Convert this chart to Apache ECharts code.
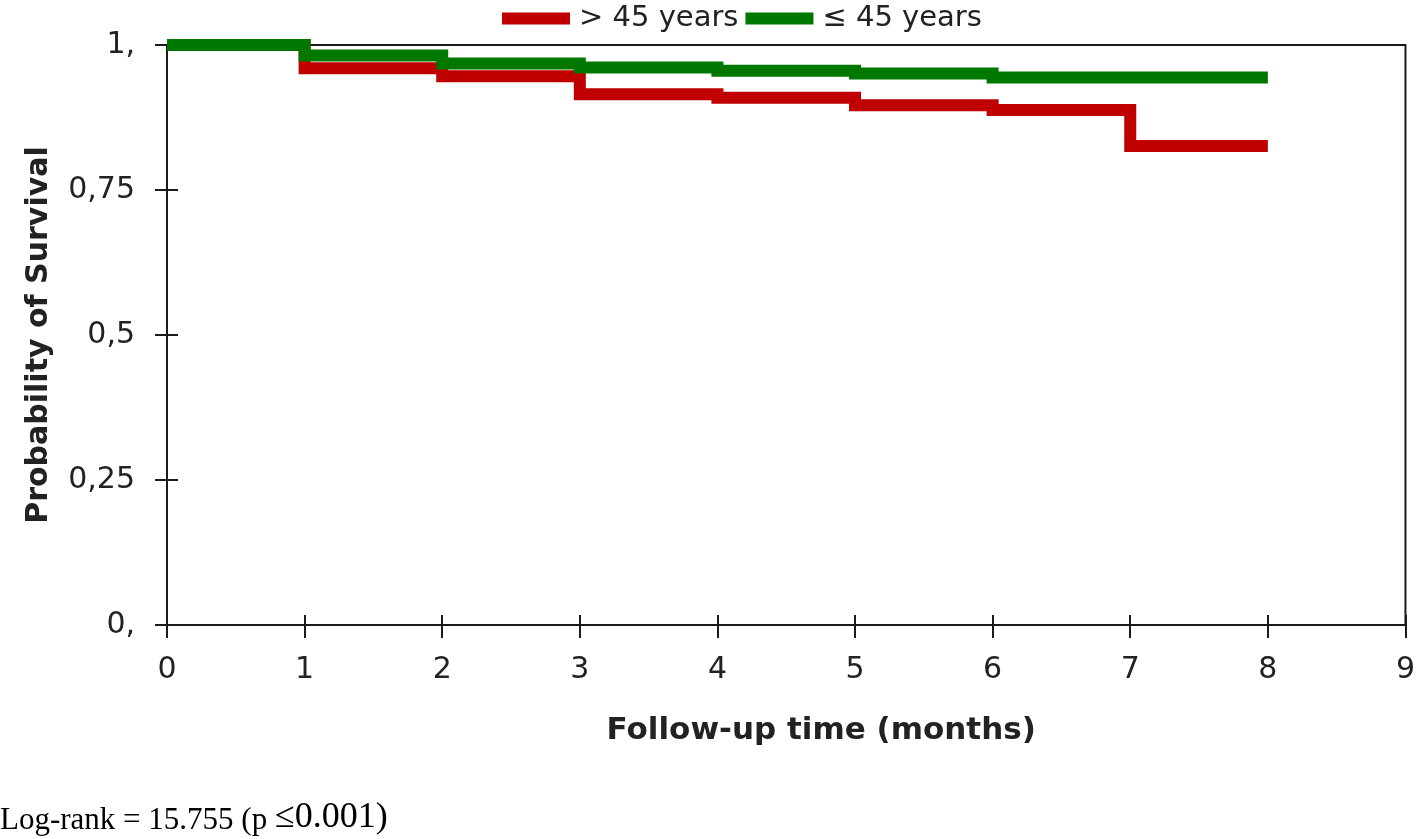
<!DOCTYPE html>
<html>
<head>
<meta charset="utf-8">
<script src="https://cdn.jsdelivr.net/npm/echarts@6/dist/echarts.min.js"></script>
<style>
  html, body { margin: 0; padding: 0; background: #fff; }
  #chart { width: 1418px; height: 839px; }
</style>
</head>
<body>
<div id="chart"></div>
<script>
// follow-up time (months) and Kaplan-Meier survival
var months = [0, 1, 2, 3, 4, 5, 6, 7, 8];
var survOver45 = [1, 0.960, 0.946, 0.915, 0.909, 0.896, 0.888, 0.826, 0.826];
var survUpTo45 = [1, 0.982, 0.968, 0.961, 0.9555, 0.951, 0.944, 0.944, 0.944];
var seriesNames = ['> 45 years', '≤ 45 years'];
var yTickLabels = ['0,', '0,25', '0,5', '0,75', '1,'];
var xTickLabels = ['0', '1', '2', '3', '4', '5', '6', '7', '8', '9'];

var toPairs = function (xs, ys) {
    return xs.map(function (x, i) { return [x, ys[i]]; });
};

var chart = echarts.init(document.getElementById('chart'));

var axisColor = '#1a1a1a';
var labelFont = 'DejaVu Sans';

// ticks cross the axis: the axis is pushed inside the grid (negative offset)
// and its ticks are long enough to poke out; the grid border draws the line
var xInset = 10, yInset = 11;

chart.setOption({
    animation: false,
    backgroundColor: '#fff',
    grid: {
        show: true,
        left: 167, right: 10, top: 45, bottom: 214,
        borderColor: axisColor,
        borderWidth: 2
    },
    legend: {
        data: seriesNames,
        left: 497, top: -1,
        icon: 'rect',
        itemWidth: 68, itemHeight: 12, itemGap: 7,
        textStyle: {
            fontFamily: labelFont, fontSize: 29, color: '#222',
            padding: [0, 0, 0, 4]
        }
    },
    xAxis: {
        type: 'value', min: 0, max: 9, interval: 1,
        position: 'bottom',
        offset: -xInset,
        name: 'Follow-up time (months)',
        nameLocation: 'middle',
        nameGap: 90 + xInset,
        nameTextStyle: {
            fontFamily: labelFont, fontSize: 31, fontWeight: 'bold',
            color: '#222', padding: [0, 0, 0, 70]
        },
        axisLine: { show: false },
        axisTick: { length: 13 + xInset, lineStyle: { color: axisColor, width: 2 } },
        axisLabel: {
            margin: 30 + xInset,
            fontFamily: labelFont, fontSize: 30, color: '#222',
            formatter: function (v) { return xTickLabels[v]; }
        },
        splitLine: { show: false }
    },
    yAxis: {
        type: 'value', min: 0, max: 1, interval: 0.25,
        position: 'left',
        offset: -yInset,
        name: 'Probability of Survival',
        nameLocation: 'middle',
        nameGap: 113 + yInset,
        nameTextStyle: {
            fontFamily: labelFont, fontSize: 30, fontWeight: 'bold', color: '#222'
        },
        axisLine: { show: false },
        axisTick: { show: true, length: 12 + yInset, lineStyle: { color: axisColor, width: 2 } },
        axisLabel: {
            margin: 32 + yInset,
            fontFamily: labelFont, fontSize: 30, color: '#222',
            formatter: function (v) { return yTickLabels[Math.round(v / 0.25)]; }
        },
        splitLine: { show: false }
    },
    series: [
        {
            name: seriesNames[0],
            type: 'line',
            step: 'end',
            showSymbol: false,
            color: '#c00000',
            lineStyle: { width: 12, cap: 'butt', join: 'miter' },
            data: toPairs(months, survOver45)
        },
        {
            name: seriesNames[1],
            type: 'line',
            step: 'end',
            showSymbol: false,
            color: '#007800',
            lineStyle: { width: 12, cap: 'butt', join: 'miter' },
            data: toPairs(months, survUpTo45)
        }
    ],
    graphic: [{
        type: 'text',
        x: 0, y: 836,
        style: {
            text: '{a|Log-rank = 15.755 (p }{b|≤0.001)}',
            verticalAlign: 'bottom',
            fill: '#000',
            rich: {
                a: { fontFamily: 'Liberation Serif', fontSize: 31, fill: '#000', verticalAlign: 'bottom' },
                b: { fontFamily: 'Liberation Serif', fontSize: 36, fill: '#000', verticalAlign: 'bottom' }
            }
        }
    }]
});
</script>
</body>
</html>
